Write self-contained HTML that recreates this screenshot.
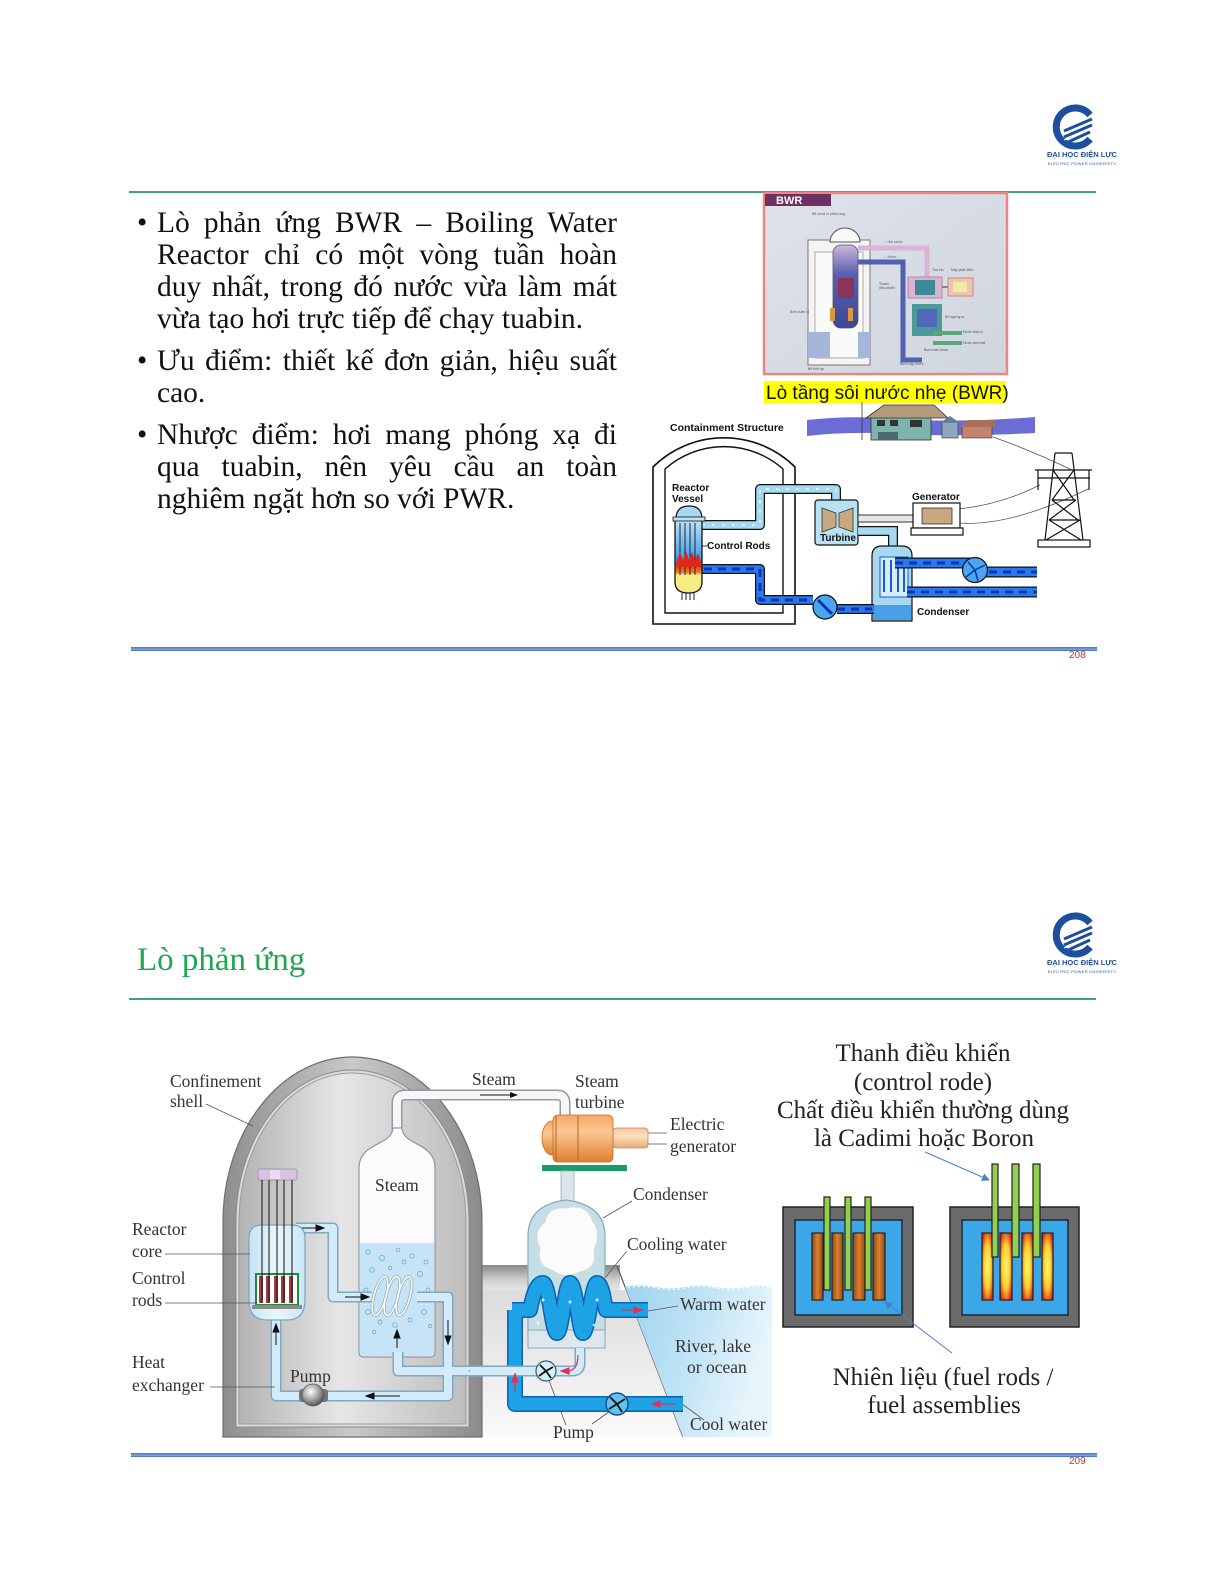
<!DOCTYPE html>
<html><head><meta charset="utf-8">
<style>
html,body{margin:0;padding:0;background:#fff;}
body{width:1225px;height:1585px;position:relative;overflow:hidden;}
svg{position:absolute;left:0;top:0;}
.bul{position:absolute;left:157px;top:207px;width:460px;font-family:"Liberation Serif","Noto Serif CJK SC",serif;font-size:29.5px;line-height:32px;color:#111;}
.bul p{margin:0 0 10px 0;position:relative;}
.bul p:before{content:"•";position:absolute;left:-20px;top:0;}
.bul span{display:block;text-align:justify;text-align-last:justify;white-space:normal;}
.bul span.l{text-align:left;text-align-last:left;}
</style></head><body>
<svg width="1225" height="1585" viewBox="0 0 1225 1585" xmlns="http://www.w3.org/2000/svg">
<defs>
<linearGradient id="shellOut" x1="0" x2="1" y1="0" y2="0">
<stop offset="0" stop-color="#8e8e8e"/><stop offset="0.5" stop-color="#c9c9c9"/><stop offset="1" stop-color="#8a8a8a"/></linearGradient>
<linearGradient id="shellIn" x1="0" x2="1" y1="0" y2="0">
<stop offset="0" stop-color="#b3b3b3"/><stop offset="0.45" stop-color="#e6e6e6"/><stop offset="1" stop-color="#bdbdbd"/></linearGradient>
<linearGradient id="band" x1="0" x2="0" y1="0" y2="1">
<stop offset="0" stop-color="#8a8a8a"/><stop offset="0.6" stop-color="#cfcfcf"/><stop offset="1" stop-color="#e6e6e6"/></linearGradient>
<linearGradient id="under" x1="0" x2="0" y1="0" y2="1">
<stop offset="0" stop-color="#dcdcdc"/><stop offset="1" stop-color="#fafafa"/></linearGradient>
<linearGradient id="water" x1="0" x2="1" y1="0" y2="0.3">
<stop offset="0" stop-color="#9dd2ef"/><stop offset="0.6" stop-color="#c6e6f6"/><stop offset="1" stop-color="#e9f5fc"/></linearGradient>
<linearGradient id="vessel" x1="0" x2="1" y1="0" y2="0">
<stop offset="0" stop-color="#c5e3f4"/><stop offset="0.5" stop-color="#eaf6fd"/><stop offset="1" stop-color="#c9e6f6"/></linearGradient>
<linearGradient id="turb" x1="0" x2="0" y1="0" y2="1">
<stop offset="0" stop-color="#f4a866"/><stop offset="0.35" stop-color="#f9c892"/><stop offset="1" stop-color="#e07e30"/></linearGradient>
<linearGradient id="gen" x1="0" x2="0" y1="0" y2="1">
<stop offset="0" stop-color="#f3c49a"/><stop offset="0.4" stop-color="#fde0c4"/><stop offset="1" stop-color="#e8a772"/></linearGradient>
<radialGradient id="pumpG" cx="0.4" cy="0.35" r="0.7">
<stop offset="0" stop-color="#ffffff"/><stop offset="0.5" stop-color="#a8a8a8"/><stop offset="1" stop-color="#4a4a4a"/></radialGradient>
<linearGradient id="rodOr" x1="0" x2="1" y1="0" y2="0">
<stop offset="0" stop-color="#8a4a1a"/><stop offset="0.5" stop-color="#e0802a"/><stop offset="1" stop-color="#8a4a1a"/></linearGradient>
<radialGradient id="rodHot" cx="0.5" cy="0.5" r="0.6">
<stop offset="0" stop-color="#fff66a"/><stop offset="0.55" stop-color="#f7d030"/><stop offset="1" stop-color="#e0201a"/></radialGradient>
<linearGradient id="bwrbg" x1="0" x2="1" y1="0" y2="1">
<stop offset="0" stop-color="#dfe2ea"/><stop offset="1" stop-color="#cfd5df"/></linearGradient>
<linearGradient id="bwrVes" x1="0" x2="0" y1="0" y2="1">
<stop offset="0" stop-color="#cdb8da"/><stop offset="0.35" stop-color="#5a5fb0"/><stop offset="1" stop-color="#3e4796"/></linearGradient>
<linearGradient id="rv" x1="0" x2="0" y1="0" y2="1">
<stop offset="0" stop-color="#bfe4f7"/><stop offset="0.55" stop-color="#3d9be6"/><stop offset="0.62" stop-color="#e03a1a"/><stop offset="0.72" stop-color="#f08020"/><stop offset="0.75" stop-color="#f7ef86"/><stop offset="1" stop-color="#f3ea80"/></linearGradient>
<marker id="arw" markerWidth="8" markerHeight="8" refX="7" refY="4" orient="auto" markerUnits="userSpaceOnUse">
<path d="M0,0 L8,4 L0,8 Z" fill="#4a7fd0"/></marker>
</defs>

<!-- ============ SLIDE 1 ============ -->
<g transform="translate(1076,127)">
<path d="M14,-12 A19,19 0 1 0 14,12" fill="none" stroke="#1d4f9e" stroke-width="7"/>
<path d="M-12,4 L16,-8 M-12,10 L16,-2 M-10,16 L14,5" stroke="#1d4f9e" stroke-width="3"/>
<path d="M-13,7 L16,-5 M-12,13 L15,2" stroke="#fff" stroke-width="1"/>
</g>
<text x="1082" y="157" font-family="Liberation Sans, sans-serif" font-weight="bold" font-size="7.5" fill="#1d4f9e" text-anchor="middle">ĐẠI HỌC ĐIỆN LỰC</text>
<text x="1082" y="165" font-family="Liberation Sans, sans-serif" font-size="4" fill="#1d4f9e" text-anchor="middle" letter-spacing="0.3">ELECTRIC POWER UNIVERSITY</text>

<rect x="129" y="191" width="967" height="2" fill="#3aa86e"/>

<!-- BWR photo -->
<rect x="764" y="193" width="243" height="181" fill="url(#bwrbg)" stroke="#ee8580" stroke-width="2.5"/>
<rect x="765" y="194" width="66" height="12" fill="#6e2f62"/>
<text x="776" y="204" font-family="Liberation Sans, sans-serif" font-weight="bold" font-size="11" fill="#fff">BWR</text>
<rect x="808" y="240" width="62" height="125" fill="#f4f4f6" stroke="#777" stroke-width="1"/>
<rect x="815" y="252" width="48" height="106" fill="#fafafa" stroke="#999" stroke-width="0.8"/>
<path d="M830,242 A15,14 0 0 1 860,242 Z" fill="#f8f8f8" stroke="#555" stroke-width="1"/>
<rect x="808" y="332" width="22" height="26" fill="#a6b6da"/>
<rect x="858" y="332" width="12" height="26" fill="#a6b6da"/>
<rect x="833" y="245" width="25" height="83" rx="8" fill="url(#bwrVes)" stroke="#556" stroke-width="0.8"/>
<rect x="838" y="278" width="16" height="20" fill="#8a3458"/>
<rect x="830" y="308" width="5" height="13" fill="#d79a40"/>
<rect x="848" y="308" width="5" height="13" fill="#d79a40"/>
<path d="M858,248 H927 V278" fill="none" stroke="#d8b4d6" stroke-width="5"/>
<path d="M858,262 H903 V360 H922" fill="none" stroke="#5260b2" stroke-width="5"/>
<rect x="908" y="277" width="34" height="21" fill="#dcb2d2" stroke="#b488a8"/>
<rect x="915" y="280" width="20" height="15" fill="#3a8a9a"/>
<rect x="948" y="278" width="25" height="18" fill="#f0c4b2" stroke="#c98878"/>
<rect x="953" y="282" width="14" height="10" fill="#f2eaa6"/>
<line x1="942" y1="287" x2="948" y2="287" stroke="#888" stroke-width="2"/>
<rect x="912" y="304" width="30" height="32" fill="#4a9a9a"/>
<rect x="917" y="309" width="20" height="18" fill="#5068b8"/>
<path d="M933,333 H962 M933,343 H962" stroke="#5aa87a" stroke-width="4"/>
<g font-family="Liberation Sans, sans-serif" font-size="3.5" fill="#555">
<text x="812" y="215">Bể chứa lò phản ứng</text>
<text x="883" y="243">→ Hơi nước</text>
<text x="883" y="258">← Nước</text>
<text x="932" y="271">Tua bin</text><text x="951" y="271">Máy phát điện</text>
<text x="879" y="285">Thanh</text><text x="879" y="289">điều khiển</text>
<text x="790" y="313">Bơm tuần lò</text>
<text x="945" y="318">Bộ ngưng tụ</text>
<text x="963" y="333">Nước thải ra</text>
<text x="963" y="344">Nước làm mát</text>
<text x="924" y="351">Bơm tuần hoàn</text>
<text x="900" y="365">Bơm cấp nước</text>
<text x="808" y="370">Bể triệt áp</text>
</g>
<rect x="764" y="381" width="242" height="22" fill="#ffff00"/>
<text x="766" y="399" font-family="Liberation Sans, sans-serif" font-size="19" fill="#111">Lò tầng sôi nước nhẹ (BWR)</text>

<!-- Houses strip -->
<path d="M807,420 Q850,415 900,419 Q960,423 1035,417 L1035,433 Q960,437 900,434 Q850,431 807,436 Z" fill="#6c6cd6"/>
<rect x="871" y="414" width="60" height="26" fill="#7db4ae" stroke="#333" stroke-width="0.8"/>
<path d="M866,418 L884,405 L934,405 L948,418 Z" fill="#b49a78" stroke="#333" stroke-width="0.8"/>
<rect x="877" y="420" width="8" height="6" fill="#333"/><rect x="890" y="420" width="8" height="6" fill="#333"/><rect x="910" y="420" width="12" height="7" fill="#333"/>
<rect x="878" y="432" width="20" height="8" fill="#4a6a70"/>
<rect x="942" y="422" width="16" height="16" fill="#8fa6bc" stroke="#333" stroke-width="0.6"/>
<path d="M940,423 L950,416 L960,423 Z" fill="#6a7a9a"/>
<rect x="962" y="426" width="30" height="12" fill="#c6826c" stroke="#333" stroke-width="0.6"/>
<path d="M960,427 L968,420 L994,420 L996,427 Z" fill="#a8705a"/>
<line x1="862" y1="402" x2="862" y2="440" stroke="#333" stroke-width="0.8"/>
<path d="M958,509 Q1000,505 1040,485 M958,523 Q1010,527 1088,489 M993,437 Q1030,450 1072,470" fill="none" stroke="#555" stroke-width="0.8"/>
<g stroke="#111" stroke-width="1.2" fill="none">
<path d="M1055,453 L1045,540 M1072,453 L1083,540 M1035,470 H1092 M1038,478 H1090"/>
<path d="M1055,453 H1072 M1053,470 L1074,500 M1074,470 L1052,500 M1052,500 L1078,520 M1076,500 L1049,520 M1049,520 L1081,540 M1080,520 L1046,540 M1052,500 H1076 M1049,520 H1080"/>
<path d="M1038,470 V490 M1089,470 V490"/>
<rect x="1038" y="540" width="52" height="7"/>
</g>
<path d="M653,624 V467 A101,101 0 0 1 795,467 V624 Z" fill="#fff" stroke="#111" stroke-width="1.6"/>
<path d="M665,613 V469 A89,89 0 0 1 783,469 V613 Z" fill="#fff" stroke="#111" stroke-width="1.4"/>
<text x="670" y="431" font-family="Liberation Sans, sans-serif" font-weight="bold" font-size="10.5" fill="#111">Containment Structure</text>
<path d="M702,525 H760 V489 H836 V503" fill="none" stroke="#111" stroke-width="10" stroke-linejoin="round"/>
<path d="M702,525 H760 V489 H836 V504" fill="none" stroke="#a6d8f0" stroke-width="7.5" stroke-linejoin="round"/>
<path d="M702,525 H760 V489 H836 V503" fill="none" stroke="#fff" stroke-width="1.5" stroke-dasharray="3 7" opacity="0.8"/>
<rect x="815" y="500" width="43" height="45" rx="3" fill="#b8e2f4" stroke="#111" stroke-width="1.2"/>
<path d="M822,508 L836,513 L836,527 L822,532 Z M853,508 L839,513 L839,527 L853,532 Z" fill="#c8a880" stroke="#333" stroke-width="0.8"/>
<text x="820" y="541" font-family="Liberation Sans, sans-serif" font-weight="bold" font-size="10" fill="#111">Turbine</text>
<rect x="858" y="515" width="56" height="7" fill="#e6e6e6" stroke="#222" stroke-width="0.9"/>
<rect x="913" y="503" width="47" height="25" fill="#fff" stroke="#111" stroke-width="1.2"/>
<rect x="922" y="508" width="30" height="16" fill="#c8a880" stroke="#333" stroke-width="0.8"/>
<rect x="911" y="528" width="52" height="7" fill="#fff" stroke="#111" stroke-width="1.2"/>
<text x="912" y="500" font-family="Liberation Sans, sans-serif" font-weight="bold" font-size="10" fill="#111">Generator</text>
<path d="M858,531 H893 V552" fill="none" stroke="#111" stroke-width="10"/>
<path d="M858,531 H893 V553" fill="none" stroke="#a6d8f0" stroke-width="7.5"/>
<path d="M872,621 V556 Q872,546 882,546 H902 Q912,546 912,556 V621 Z" fill="#a8d8f0" stroke="#111" stroke-width="1.2"/>
<rect x="880" y="557" width="28" height="40" fill="#d6eefa" stroke="#1a5ad0" stroke-width="1"/>
<path d="M884,560 V592 M891,560 V592 M898,560 V592 M904,560 V592" stroke="#1a5ad0" stroke-width="2"/>
<path d="M873,605 H911 V620 H873 Z" fill="#4aa0e8"/>
<text x="917" y="615" font-family="Liberation Sans, sans-serif" font-weight="bold" font-size="10" fill="#111">Condenser</text>
<path d="M895,563 H975 M975,572 H1037 M907,592 H1037" fill="none" stroke="#111" stroke-width="11"/>
<path d="M895,563 H975 M975,572 H1037 M907,592 H1037" fill="none" stroke="#2a78ee" stroke-width="8.5"/>
<path d="M895,563 H975 M975,572 H1037 M907,592 H1037" fill="none" stroke="#0a35b0" stroke-width="3" stroke-dasharray="8 6"/>
<circle cx="975" cy="570" r="12.5" fill="#4aa6ee" stroke="#111" stroke-width="1.2"/>
<path d="M975,570 L968,562 M975,570 L985,565 M975,570 L978,581 M975,570 L966,577" stroke="#0a35b0" stroke-width="1.5"/>
<path d="M702,569 H760 V600 H813 M837,609 H874" fill="none" stroke="#111" stroke-width="10" stroke-linejoin="round"/>
<path d="M702,569 H760 V600 H813 M837,609 H874" fill="none" stroke="#2a78ee" stroke-width="7.5" stroke-linejoin="round"/>
<path d="M704,569 H760 V600 H813 M837,609 H872" fill="none" stroke="#0a35b0" stroke-width="3" stroke-dasharray="8 6"/>
<circle cx="825" cy="607" r="12" fill="#4aa6ee" stroke="#111" stroke-width="1.2"/>
<path d="M818,600 L832,614" stroke="#0a35b0" stroke-width="3"/>
<path d="M675,520 H702 V582 Q702,593 688.5,593 Q675,593 675,582 Z" fill="url(#rv)" stroke="#111" stroke-width="1.3"/>
<path d="M676,519 Q676,506 689,506 Q702,506 702,519 Z" fill="#a6d8f0" stroke="#111" stroke-width="1.2"/>
<rect x="673" y="517" width="32" height="4" fill="#bfe4f7" stroke="#111" stroke-width="0.8"/>
<path d="M680,523 V575 M685,523 V575 M690,523 V575 M695,523 V575 M682,593 V600 M686,593 V600 M690,593 V600 M694,593 V600" stroke="#223" stroke-width="1"/>
<path d="M677,560 L680,552 L683,560 L686,551 L689,560 L692,552 L695,560 L698,553 L701,562 L701,567 L677,567 Z" fill="#e02818"/>
<text x="672" y="491" font-family="Liberation Sans, sans-serif" font-weight="bold" font-size="10" fill="#111">Reactor</text>
<text x="672" y="502" font-family="Liberation Sans, sans-serif" font-weight="bold" font-size="10" fill="#111">Vessel</text>
<line x1="702" y1="546" x2="707" y2="546" stroke="#111" stroke-width="0.8"/>
<text x="707" y="549" font-family="Liberation Sans, sans-serif" font-weight="bold" font-size="10" fill="#111">Control Rods</text>

<rect x="131" y="647" width="966" height="4" fill="#4f7cc4"/>
<rect x="131" y="648.7" width="966" height="0.8" fill="#a9c1e8"/>
<text x="1069" y="658" font-family="Liberation Sans, sans-serif" font-size="10" fill="#c0302a">208</text>

<!-- ============ SLIDE 2 ============ -->
<g transform="translate(1076,935)">
<path d="M14,-12 A19,19 0 1 0 14,12" fill="none" stroke="#1d4f9e" stroke-width="7"/>
<path d="M-12,4 L16,-8 M-12,10 L16,-2 M-10,16 L14,5" stroke="#1d4f9e" stroke-width="3"/>
<path d="M-13,7 L16,-5 M-12,13 L15,2" stroke="#fff" stroke-width="1"/>
</g>
<text x="1082" y="965" font-family="Liberation Sans, sans-serif" font-weight="bold" font-size="7.5" fill="#1d4f9e" text-anchor="middle">ĐẠI HỌC ĐIỆN LỰC</text>
<text x="1082" y="973" font-family="Liberation Sans, sans-serif" font-size="4" fill="#1d4f9e" text-anchor="middle" letter-spacing="0.3">ELECTRIC POWER UNIVERSITY</text>

<text x="137" y="970" font-family="Liberation Serif, serif" font-size="33" fill="#1ea650">Lò phản ứng</text>
<rect x="129" y="998" width="967" height="2" fill="#3aa86e"/>

<rect x="470" y="1265" width="150" height="25" fill="url(#band)"/>
<path d="M470,1290 H625 L683,1437 H470 Z" fill="url(#under)"/>
<path d="M617,1266 L683,1437" stroke="#555" stroke-width="1.2"/>
<path d="M625,1287 Q640,1284 655,1287 T685,1287 T715,1287 T745,1287 T772,1287 V1437 H683 Z" fill="url(#water)"/>
<path d="M628,1288 Q640,1285 655,1288 T685,1288 T715,1288 T745,1288 T772,1288" fill="none" stroke="#fff" stroke-width="1.2" stroke-dasharray="2 3"/>

<path d="M223,1437 V1222 A129.5,165 0 0 1 482,1222 V1437 Z" fill="url(#shellOut)" stroke="#6e6e6e" stroke-width="1.2"/>
<path d="M236,1427 V1222 A116.5,152 0 0 1 469,1222 V1427 Z" fill="#dcdcdc" stroke="#8a8a8a" stroke-width="1"/>
<path d="M239,1424 V1222 A113.5,149 0 0 1 466,1222 V1424 Z" fill="url(#shellIn)" stroke="#9a9a9a" stroke-width="1"/>

<path d="M397,1132 V1103 Q397,1095 405,1095 H557 Q565,1095 565,1103 V1117" fill="none" stroke="#8e9aa4" stroke-width="11"/>
<path d="M397,1132 V1103 Q397,1095 405,1095 H557 Q565,1095 565,1103 V1118" fill="none" stroke="#f7f7f7" stroke-width="8"/>
<path d="M480,1095 H510" stroke="#111" stroke-width="1"/><path d="M510,1092 L518,1095 L510,1098 Z" fill="#111"/>

<path d="M359,1352 V1168 C359,1142 392,1146 393,1128 H402 C403,1146 435,1142 435,1168 V1352 Q435,1357 430,1357 H364 Q359,1357 359,1352 Z" fill="#fbfbfb" stroke="#8a9aa8" stroke-width="1.2"/>
<path d="M360,1243 H434 V1352 Q434,1356 430,1356 H364 Q360,1356 360,1352 Z" fill="#c6e4f5"/>
<g fill="none" stroke="#6fb4dd" stroke-width="0.9">
<circle cx="368" cy="1252" r="2"/><circle cx="382" cy="1258" r="2.5"/><circle cx="398" cy="1250" r="1.8"/><circle cx="412" cy="1256" r="2.2"/><circle cx="426" cy="1262" r="2"/>
<circle cx="372" cy="1270" r="2.3"/><circle cx="390" cy="1268" r="1.7"/><circle cx="420" cy="1274" r="2.5"/><circle cx="366" cy="1290" r="2"/><circle cx="428" cy="1290" r="2"/>
<circle cx="368" cy="1312" r="2.4"/><circle cx="380" cy="1322" r="2"/><circle cx="395" cy="1325" r="2.3"/><circle cx="410" cy="1320" r="2"/><circle cx="424" cy="1312" r="2.4"/>
<circle cx="404" cy="1262" r="2"/><circle cx="430" cy="1326" r="1.6"/><circle cx="374" cy="1332" r="1.6"/></g>
<text x="375" y="1191" font-family="Liberation Serif, serif" font-size="17.5" fill="#333">Steam</text>

<g fill="none" stroke-linejoin="round">
<path d="M296,1228 H333 V1297 H372 M417,1297 H448 V1396 H276 V1318 M580,1348 V1363 Q580,1371 572,1371 H398 V1352" stroke="#7fa9c2" stroke-width="11"/>
<path d="M296,1228 H333 V1297 H372 M417,1297 H448 V1396 H276 V1318 M580,1348 V1363 Q580,1371 572,1371 H398 V1352" stroke="#d3ebf8" stroke-width="8"/>
</g>
<g fill="none" stroke="#8aa" stroke-width="3">
<ellipse cx="380" cy="1296" rx="6" ry="20" transform="rotate(15 380 1296)"/>
<ellipse cx="392" cy="1296" rx="6" ry="20" transform="rotate(15 392 1296)"/>
<ellipse cx="404" cy="1296" rx="6" ry="20" transform="rotate(15 404 1296)"/>
</g>
<g fill="none" stroke="#fff" stroke-width="1.6">
<ellipse cx="380" cy="1296" rx="6" ry="20" transform="rotate(15 380 1296)"/>
<ellipse cx="392" cy="1296" rx="6" ry="20" transform="rotate(15 392 1296)"/>
<ellipse cx="404" cy="1296" rx="6" ry="20" transform="rotate(15 404 1296)"/>
</g>
<g fill="#111" stroke="#111" stroke-width="1">
<path d="M300,1228 H318" /><path d="M316,1225 L324,1228 L316,1231 Z"/>
<path d="M345,1297 H363"/><path d="M361,1294 L369,1297 L361,1300 Z"/>
<path d="M448,1320 V1338"/><path d="M445,1336 L448,1344 L451,1336 Z"/>
<path d="M400,1396 H372"/><path d="M374,1393 L366,1396 L374,1399 Z"/>
<path d="M276,1345 V1330"/><path d="M273,1332 L276,1324 L279,1332 Z"/>
<path d="M397,1348 V1336"/><path d="M394,1338 L397,1330 L400,1338 Z"/>
<path d="M505,1371 H476"/><path d="M478,1368 L470,1371 L478,1374 Z"/>
</g>

<rect x="258" y="1169" width="39" height="11" rx="2" fill="#d7c2df" stroke="#998aa6" stroke-width="0.8"/>
<rect x="270" y="1170" width="10" height="9" fill="#e9dcef"/>
<path d="M249,1238 Q249,1225 262,1225 H292 Q305,1225 305,1238 V1300 Q305,1320 287,1320 H267 Q249,1320 249,1300 Z" fill="url(#vessel)" stroke="#7ea4b8" stroke-width="1.2"/>
<rect x="256" y="1274" width="42" height="31" fill="#fff" stroke="#1d8a3c" stroke-width="2"/>
<g fill="#a33a44"><rect x="259" y="1276" width="4" height="27"/><rect x="266" y="1276" width="4" height="27"/><rect x="274" y="1276" width="4" height="27"/><rect x="281" y="1276" width="4" height="27"/><rect x="289" y="1276" width="4" height="27"/></g>
<path d="M262,1180 V1303 M269,1180 V1303 M277,1180 V1303 M284,1180 V1303 M292,1180 V1303" stroke="#111" stroke-width="1"/>
<rect x="252" y="1305" width="50" height="4" fill="#8a8a8a"/>
<rect x="299" y="1389" width="29" height="13" rx="3" fill="#777"/>
<circle cx="313" cy="1395" r="11" fill="url(#pumpG)" stroke="#555" stroke-width="0.8"/>
<text x="290" y="1382" font-family="Liberation Serif, serif" font-size="17.5" fill="#333">Pump</text>

<g font-family="Liberation Serif, serif" font-size="17.5" fill="#333">
<text x="170" y="1087">Confinement</text>
<text x="170" y="1107">shell</text>
<text x="132" y="1235">Reactor</text>
<text x="132" y="1257">core</text>
<text x="132" y="1284">Control</text>
<text x="132" y="1306">rods</text>
<text x="132" y="1368">Heat</text>
<text x="132" y="1391">exchanger</text>
<text x="472" y="1085">Steam</text>
<text x="575" y="1087">Steam</text>
<text x="575" y="1108">turbine</text>
<text x="670" y="1130">Electric</text>
<text x="670" y="1152">generator</text>
<text x="633" y="1200">Condenser</text>
<text x="627" y="1250">Cooling water</text>
<text x="680" y="1310">Warm water</text>
<text x="675" y="1352">River, lake</text>
<text x="687" y="1373">or ocean</text>
<text x="690" y="1430">Cool water</text>
<text x="553" y="1438">Pump</text>
</g>
<g stroke="#555" stroke-width="0.8" fill="none">
<path d="M206,1104 L253,1126"/>
<path d="M165,1254 H250"/>
<path d="M165,1303 H257"/>
<path d="M210,1387 H275"/>
<path d="M648,1133 H667 M648,1144 H667"/>
<path d="M632,1201 L603,1218"/>
<path d="M627,1251 L600,1284"/>
<path d="M678,1306 L648,1311"/>
<path d="M682,1404 L704,1420"/>
<path d="M566,1425 L548,1378 M592,1424 L613,1409"/>
</g>

<rect x="613" y="1128" width="35" height="20" rx="3" fill="url(#gen)" stroke="#c9874e" stroke-width="0.8"/>
<ellipse cx="552" cy="1138" rx="10" ry="17" fill="url(#turb)" stroke="#c06a28" stroke-width="0.8"/>
<rect x="553" y="1115" width="60" height="47" rx="5" fill="url(#turb)" stroke="#c06a28" stroke-width="0.8"/>
<path d="M556,1116 V1161 M578,1116 V1161" stroke="#b8631f" stroke-width="1"/>
<rect x="542" y="1165" width="85" height="6" fill="#1b9a6b"/>
<rect x="561" y="1171" width="13" height="33" fill="#dbe6ec" stroke="#9ab0bc" stroke-width="0.8"/>

<path d="M528,1337 V1236 Q528,1205 566,1200 Q605,1205 605,1236 V1337 Z" fill="#c6dfe6" stroke="#8aa8b4" stroke-width="1.2"/>
<path d="M545,1222 Q548,1206 566,1208 Q586,1203 592,1220 Q602,1232 594,1250 Q598,1268 580,1272 Q565,1280 552,1270 Q536,1266 540,1248 Q532,1232 545,1222 Z" fill="#fbfbfb" stroke="#d8d8d8" stroke-width="1"/>
<rect x="528" y="1330" width="77" height="18" fill="#dce8ee" stroke="#8aa8b4" stroke-width="1"/>

<g fill="none" stroke-linejoin="round">
<path d="M515,1310 V1404 H683 M512,1310 H530 C534,1290 538,1283 543,1283 C549,1283 552,1333 557,1333 C562,1333 565,1283 570,1283 C576,1283 579,1333 583,1333 C588,1333 592,1283 597,1283 C602,1283 604,1300 606,1310 H648" stroke="#0c63ae" stroke-width="16"/>
<path d="M515,1310 V1404 H683 M512,1310 H530 C534,1290 538,1283 543,1283 C549,1283 552,1333 557,1333 C562,1333 565,1283 570,1283 C576,1283 579,1333 583,1333 C588,1333 592,1283 597,1283 C602,1283 604,1300 606,1310 H648" stroke="#1ea2e6" stroke-width="13"/>
</g>
<g fill="#fff" opacity="0.8"><circle cx="543" cy="1300" r="1.5"/><circle cx="570" cy="1302" r="1.5"/><circle cx="597" cy="1300" r="1.5"/><circle cx="538" cy="1323" r="1.3"/><circle cx="594" cy="1325" r="1.3"/></g>
<path d="M580,1348 V1363 Q580,1371 572,1371 H470" fill="none" stroke="#7fa9c2" stroke-width="11"/>
<path d="M580,1348 V1363 Q580,1371 572,1371 H470" fill="none" stroke="#d3ebf8" stroke-width="8"/>
<circle cx="546" cy="1371" r="10" fill="#d8eef9" stroke="#2a5a78" stroke-width="1.2"/>
<path d="M546,1371 L540,1365 M546,1371 L553,1367 M546,1371 L551,1378 M546,1371 L539,1376" stroke="#111" stroke-width="1.8"/>
<circle cx="617" cy="1404" r="11" fill="#63c3f0" stroke="#0c4e8a" stroke-width="1.4"/>
<path d="M617,1404 L610,1397 M617,1404 L625,1399 M617,1404 L622,1412 M617,1404 L609,1409" stroke="#111" stroke-width="1.8"/>
<g fill="#e0305a" stroke="#e0305a" stroke-width="1.2">
<path d="M622,1310 H636"/><path d="M634,1307 L642,1310 L634,1313 Z"/>
<path d="M675,1404 H658"/><path d="M660,1401 L652,1404 L660,1407 Z"/>
<path d="M515,1392 V1380"/><path d="M512,1382 L515,1374 L518,1382 Z"/>
<path d="M578,1355 Q578,1371 567,1371" fill="none"/><path d="M569,1368 L561,1371 L569,1374 Z"/>
</g>

<!-- right panel -->
<g font-family="Liberation Serif, serif" font-size="25" fill="#222" text-anchor="middle">
<text x="923" y="1061">Thanh điều khiển</text>
<text x="923" y="1090">(control rode)</text>
<text x="923" y="1118">Chất điều khiển thường dùng</text>
<text x="924" y="1146">là Cadimi hoặc Boron</text>
<text x="943" y="1385">Nhiên liệu (fuel rods /</text>
<text x="944" y="1413">fuel assemblies</text>
</g>
<rect x="783" y="1207" width="130" height="120" fill="#6b6b6b" stroke="#222" stroke-width="1.5"/>
<rect x="795" y="1220" width="107" height="95" fill="#3ba7e6" stroke="#1a2a3a" stroke-width="1.5"/>
<g fill="url(#rodOr)" stroke="#222" stroke-width="1.2">
<rect x="812" y="1233" width="11" height="67"/><rect x="832" y="1233" width="11" height="67"/><rect x="853" y="1233" width="12" height="67"/><rect x="873" y="1233" width="12" height="67"/></g>
<g fill="#92d050" stroke="#222" stroke-width="1.2">
<rect x="824" y="1197" width="6" height="93"/><rect x="845" y="1197" width="6" height="93"/><rect x="865" y="1197" width="6" height="93"/></g>
<rect x="950" y="1207" width="129" height="120" fill="#6b6b6b" stroke="#222" stroke-width="1.5"/>
<rect x="962" y="1220" width="106" height="95" fill="#3ba7e6" stroke="#1a2a3a" stroke-width="1.5"/>
<g fill="url(#rodHot)" stroke="#222" stroke-width="1.2">
<rect x="982" y="1233" width="11" height="67"/><rect x="1000" y="1233" width="12" height="67"/><rect x="1022" y="1233" width="11" height="67"/><rect x="1042" y="1233" width="11" height="67"/></g>
<g fill="#92d050" stroke="#222" stroke-width="1.2">
<rect x="992" y="1164" width="6" height="93"/><rect x="1012" y="1164" width="7" height="93"/><rect x="1033" y="1164" width="7" height="93"/></g>
<line x1="925" y1="1152" x2="989" y2="1180" stroke="#4a7fd0" stroke-width="1" marker-end="url(#arw)"/>
<line x1="952" y1="1353" x2="885" y2="1302" stroke="#4a7fd0" stroke-width="1" marker-end="url(#arw)"/>

<rect x="131" y="1453" width="966" height="4" fill="#4f7cc4"/>
<rect x="131" y="1454.7" width="966" height="0.8" fill="#a9c1e8"/>
<text x="1069" y="1464" font-family="Liberation Sans, sans-serif" font-size="10" fill="#c0302a">209</text>
</svg>

<div class="bul">
<p><span>Lò phản ứng BWR – Boiling Water</span><span>Reactor chỉ có một vòng tuần hoàn</span><span>duy nhất, trong đó nước vừa làm mát</span><span class="l">vừa tạo hơi trực tiếp để chạy tuabin.</span></p>
<p><span>Ưu điểm: thiết kế đơn giản, hiệu suất</span><span class="l">cao.</span></p>
<p><span>Nhược điểm: hơi mang phóng xạ đi</span><span>qua tuabin, nên yêu cầu an toàn</span><span class="l">nghiêm ngặt hơn so với PWR.</span></p>
</div>
</body></html>
